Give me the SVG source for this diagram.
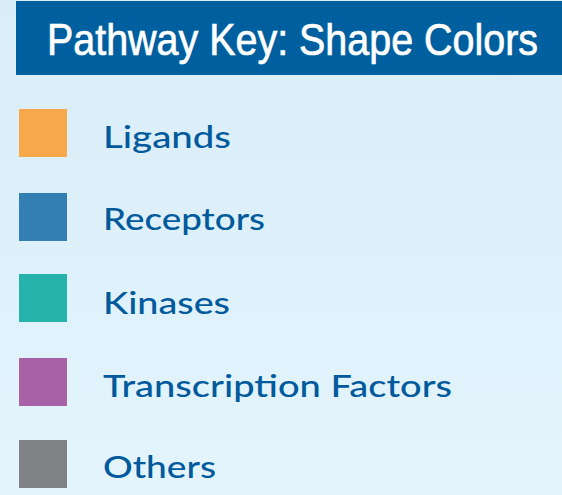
<svg xmlns="http://www.w3.org/2000/svg" width="562" height="495" viewBox="0 0 562 495">
<defs>
<linearGradient id="bg" x1="0" y1="0" x2="0" y2="1">
<stop offset="0" stop-color="#d9edf8"/>
<stop offset="1" stop-color="#e3f4fc"/>
</linearGradient>
</defs>
<style>
.sw{stroke:none}
.lbl{font-family:Lato,"Open Sans","DejaVu Sans",sans-serif;font-size:31px;fill:#005a9c;font-weight:500}
.title{font-family:"Liberation Sans",Arial,sans-serif;font-size:44px;fill:#ffffff;stroke:#ffffff;stroke-width:0.7}
</style>
<rect x="0" y="0" width="562" height="495" fill="url(#bg)"/>
<g id="header">
<rect x="16" y="1" width="546" height="74" fill="#005f9e"/>
<text class="title" x="0" y="0" transform="matrix(0.896 0 0 1 47 55)" textLength="548" lengthAdjust="spacingAndGlyphs">Pathway Key: Shape Colors</text>
</g>
<g id="ligands">
<rect class="sw" x="19" y="109" width="48" height="48" fill="#f9a74b"/>
<text class="lbl" x="103" y="148" textLength="128" lengthAdjust="spacingAndGlyphs">Ligands</text>
</g>
<g id="receptors">
<rect class="sw" x="19" y="193" width="48" height="48" fill="#337eb2"/>
<text class="lbl" x="103" y="230" textLength="162" lengthAdjust="spacingAndGlyphs">Receptors</text>
</g>
<g id="kinases">
<rect class="sw" x="19" y="274" width="48" height="48" fill="#26b3ab"/>
<text class="lbl" x="103" y="314" textLength="127" lengthAdjust="spacingAndGlyphs">Kinases</text>
</g>
<g id="transcription-factors">
<rect class="sw" x="19" y="358" width="48" height="48" fill="#a860a6"/>
<text class="lbl" x="103" y="397" textLength="349" lengthAdjust="spacingAndGlyphs">Transcription Factors</text>
</g>
<g id="others">
<rect class="sw" x="19" y="440" width="48" height="48" fill="#808285"/>
<text class="lbl" x="103" y="478" textLength="113" lengthAdjust="spacingAndGlyphs">Others</text>
</g>
<g id="connectors"/>
</svg>
